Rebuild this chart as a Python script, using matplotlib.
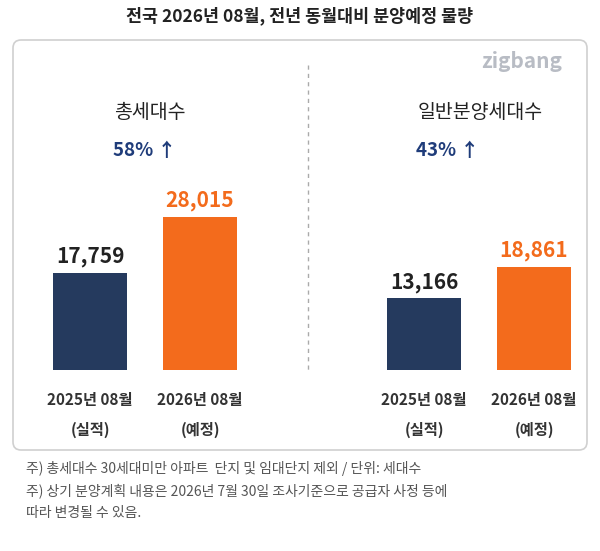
import matplotlib
matplotlib.use("Agg")
import matplotlib.pyplot as plt
from matplotlib.patches import FancyBboxPatch

plt.rcParams['font.family'] = ['Noto Sans CJK KR', 'DejaVu Sans']

title = "전국 2026년 08월, 전년 동월대비 분양예정 물량"
groups = ["총세대수", "일반분양세대수"]
growth = ["58% ↑", "43% ↑"]
cats = ["2025년 08월\n(실적)", "2026년 08월\n(예정)"]
values = [[17759, 28015], [13166, 18861]]
notes = ["주) 총세대수 30세대미만 아파트  단지 및 임대단지 제외 / 단위: 세대수",
         "주) 상기 분양계획 내용은 2026년 7월 30일 조사기준으로 공급자 사정 등에",
         "따라 변경될 수 있음."]

W, H = 600, 551
fig = plt.figure(figsize=(6, 5.51), dpi=100)
bg = fig.add_axes([0, 0, 1, 1])
bg.set_xlim(0, W); bg.set_ylim(H, 0); bg.axis('off')

bg.add_patch(FancyBboxPatch((13, 40), 574, 410, boxstyle="round,pad=0,rounding_size=8",
                            fc='white', ec='#d0d0d0', lw=1.2))
bg.plot([308, 308], [65, 370], ls=(0, (3, 3)), color='#aaaaaa', lw=1)
bg.text(300, 16, title, ha='center', va='center', fontsize=12.5, fontweight='bold', color='#222222')
bg.text(522, 62, "zigbang", ha='center', va='center', fontsize=15, fontweight='bold', color='#b8bcc4')

navy, orange = '#253a5e', '#f36b1c'
bottom_px, top_px, ymax = 370, 206, 30000
ax = fig.add_axes([0, 1 - bottom_px / H, 1, (bottom_px - top_px) / H])
ax.set_xlim(0, W); ax.set_ylim(0, ymax); ax.axis('off')

centers = [[90, 200], [424, 534]]
head_x = [150, 480]
grow_x = [145, 448]
for g in range(2):
    bg.text(head_x[g], 112, groups[g], ha='center', va='center', fontsize=14, color='#222222')
    bg.text(grow_x[g], 150, growth[g], ha='center', va='center', fontsize=13.5, fontweight='bold', color='#1f3c7a')
    for i in range(2):
        c = navy if i == 0 else orange
        ax.bar(centers[g][i], values[g][i], width=74, color=c)
        ax.text(centers[g][i], values[g][i] + 1000, f"{values[g][i]:,}", ha='center', va='bottom',
                fontsize=15, fontweight='bold', color='#222222' if i == 0 else orange)
        bg.text(centers[g][i], 415, cats[i], ha='center', va='center', fontsize=11,
                fontweight='bold', color='#333333', linespacing=2.0)

for k, n in enumerate(notes):
    bg.text(26, 469 + 22 * k, n, ha='left', va='center', fontsize=10, color='#555555')

fig.savefig("out.png", dpi=100)
